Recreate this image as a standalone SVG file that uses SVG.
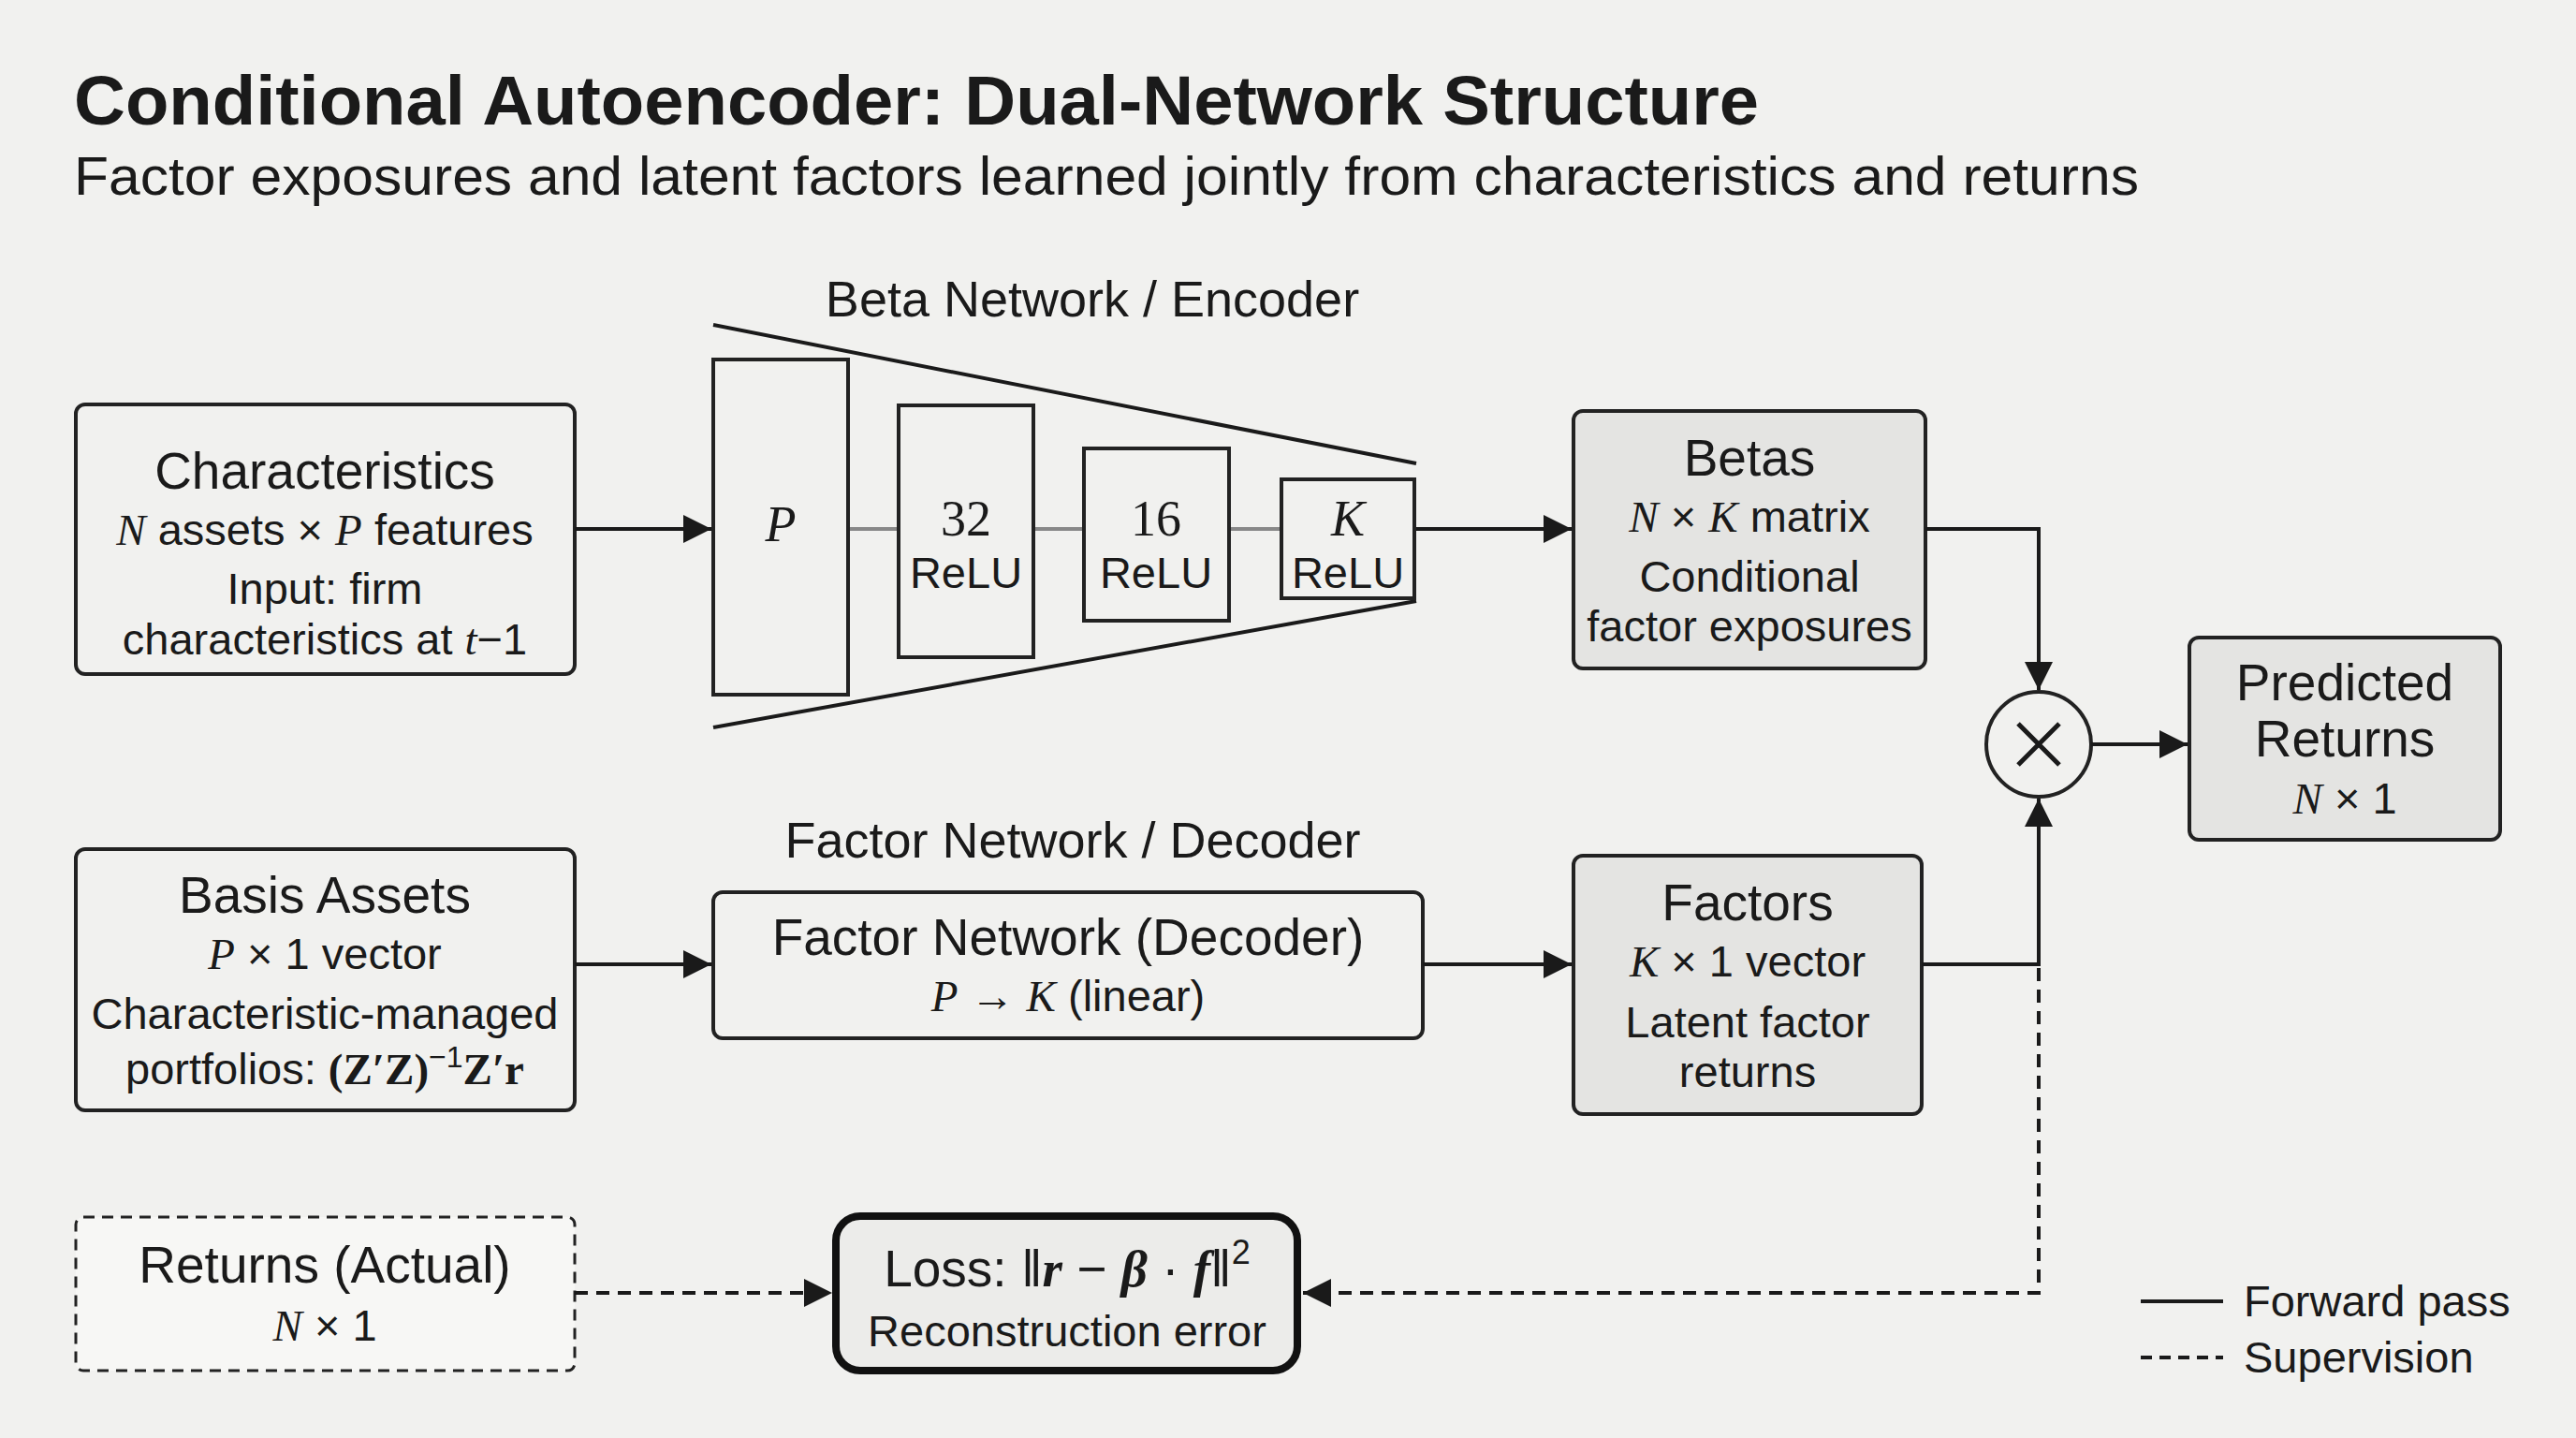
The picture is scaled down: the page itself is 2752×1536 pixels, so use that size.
<svg xmlns="http://www.w3.org/2000/svg" width="2752" height="1536" viewBox="0 0 2752 1536">
<defs>
<style>
text{font-family:"Liberation Sans",Arial,sans-serif;fill:#1a1a1a;text-anchor:middle}
.m{font-family:"Liberation Serif","DejaVu Serif",serif;font-style:italic}
.mb{font-family:"Liberation Serif","DejaVu Serif",serif;font-weight:bold}
.t{font-size:55px}.s{font-size:47px}
.box{fill:none;stroke:#222;stroke-width:4}
.sh{fill:#e4e4e2;stroke:#222;stroke-width:4}
.ln{fill:none;stroke:#1a1a1a;stroke-width:4}
.ds{fill:none;stroke:#1a1a1a;stroke-width:4;stroke-dasharray:14 9}
</style>
<marker id="ah" viewBox="0 0 10 10" refX="10" refY="5" markerWidth="34" markerHeight="30" orient="auto" markerUnits="userSpaceOnUse"><path d="M0,0L10,5L0,10z" fill="#1a1a1a"/></marker>
</defs>
<rect width="2752" height="1536" fill="#f1f1ef"/>
<text x="79" y="133" style="font-size:75px;font-weight:bold;text-anchor:start" textLength="1800" lengthAdjust="spacingAndGlyphs">Conditional Autoencoder: Dual-Network Structure</text>
<text x="79" y="208" style="font-size:57px;text-anchor:start" textLength="2206" lengthAdjust="spacingAndGlyphs">Factor exposures and latent factors learned jointly from characteristics and returns</text>

<g id="characteristics">
<rect class="box" x="81" y="432" width="533" height="288" rx="10"/>
<text class="t" x="347" y="522">Characteristics</text>
<text class="s" x="347" y="582"><tspan class="m">N</tspan> assets × <tspan class="m">P</tspan> features</text>
<text class="s" x="347" y="645">Input: firm</text>
<text class="s" x="347" y="699">characteristics at <tspan class="m">t</tspan>−1</text>
</g>

<g id="encoder">
<text style="font-size:54px" x="1167" y="338">Beta Network / Encoder</text>
<line x1="762" y1="347" x2="1513" y2="495" class="ln"/>
<line x1="762" y1="777" x2="1513" y2="642" class="ln"/>
<line x1="906" y1="565" x2="1369" y2="565" stroke="#888" stroke-width="4"/>
<rect class="box" x="762" y="384" width="144" height="358" style="fill:#f1f1ef"/>
<rect class="box" x="960" y="433" width="144" height="269" style="fill:#f1f1ef"/>
<rect class="box" x="1158" y="479" width="155" height="184" style="fill:#f1f1ef"/>
<rect class="box" x="1369" y="512" width="142" height="127" style="fill:#f1f1ef"/>
<text class="m" style="font-size:54px" x="834" y="578">P</text>
<text style="font-size:54px;font-family:'Liberation Serif',serif" x="1032" y="572">32</text>
<text class="s" x="1032" y="628">ReLU</text>
<text style="font-size:54px;font-family:'Liberation Serif',serif" x="1235" y="572">16</text>
<text class="s" x="1235" y="628">ReLU</text>
<text class="m" style="font-size:54px" x="1440" y="572">K</text>
<text class="s" x="1440" y="628">ReLU</text>
</g>

<g id="betas">
<rect class="sh" x="1681" y="439" width="376" height="275" rx="10"/>
<text class="t" x="1869" y="508">Betas</text>
<text class="s" x="1869" y="568"><tspan class="m">N</tspan> × <tspan class="m">K</tspan> matrix</text>
<text class="s" x="1869" y="632">Conditional</text>
<text class="s" x="1869" y="685">factor exposures</text>
</g>

<g id="multiply">
<circle cx="2178" cy="795" r="56" fill="none" stroke="#222" stroke-width="4"/>
<path d="M2156,773L2200,817M2200,773L2156,817" stroke="#1a1a1a" stroke-width="5"/>
</g>

<g id="predicted">
<rect class="sh" x="2339" y="681" width="332" height="216" rx="10"/>
<text class="t" x="2505" y="748">Predicted</text>
<text class="t" x="2505" y="808">Returns</text>
<text class="s" x="2505" y="869"><tspan class="m">N</tspan> × 1</text>
</g>

<g id="basis">
<rect class="box" x="81" y="907" width="533" height="279" rx="10"/>
<text class="t" x="347" y="975">Basis Assets</text>
<text class="s" x="347" y="1035"><tspan class="m">P</tspan> × 1 vector</text>
<text class="s" x="347" y="1099">Characteristic-managed</text>
<text class="s" x="347" y="1158">portfolios: <tspan class="mb">(Z′Z)</tspan><tspan style="font-size:32px" dy="-18">−1</tspan><tspan class="mb" dy="18">Z′r</tspan></text>
</g>

<g id="decoder">
<text style="font-size:54px" x="1146" y="916">Factor Network / Decoder</text>
<rect class="box" x="762" y="953" width="758" height="156" rx="10"/>
<text class="t" x="1141" y="1020">Factor Network (Decoder)</text>
<text class="s" x="1141" y="1080"><tspan class="m">P</tspan> → <tspan class="m">K</tspan> (linear)</text>
</g>

<g id="factors">
<rect class="sh" x="1681" y="914" width="372" height="276" rx="10"/>
<text class="t" x="1867" y="983">Factors</text>
<text class="s" x="1867" y="1043"><tspan class="m">K</tspan> × 1 vector</text>
<text class="s" x="1867" y="1108">Latent factor</text>
<text class="s" x="1867" y="1161">returns</text>
</g>

<g id="returns">
<rect class="box" x="81" y="1300" width="533" height="164" rx="8" style="stroke-dasharray:12 8;stroke-width:3;fill:#f7f7f5"/>
<text class="t" x="347" y="1370">Returns (Actual)</text>
<text class="s" x="347" y="1432"><tspan class="m">N</tspan> × 1</text>
</g>

<g id="loss">
<rect x="893" y="1299" width="493" height="165" rx="26" fill="#ececea" stroke="#111" stroke-width="8"/>
<text class="t" x="1140" y="1374">Loss: ‖<tspan class="mb" style="font-style:italic">r</tspan> − <tspan class="mb" style="font-style:italic">β</tspan> · <tspan class="mb" style="font-style:italic">f</tspan>‖<tspan style="font-size:36px" dy="-24">2</tspan></text>
<text class="s" x="1140" y="1438">Reconstruction error</text>
</g>

<g id="connectors">
<line x1="614" y1="565" x2="760" y2="565" class="ln" marker-end="url(#ah)"/>
<line x1="1513" y1="565" x2="1679" y2="565" class="ln" marker-end="url(#ah)"/>
<polyline points="2057,565 2178,565 2178,737" class="ln" marker-end="url(#ah)"/>
<line x1="2234" y1="795" x2="2337" y2="795" class="ln" marker-end="url(#ah)"/>
<line x1="614" y1="1030" x2="760" y2="1030" class="ln" marker-end="url(#ah)"/>
<line x1="1520" y1="1030" x2="1679" y2="1030" class="ln" marker-end="url(#ah)"/>
<polyline points="2053,1030 2178,1030 2178,853" class="ln" marker-end="url(#ah)"/>
<polyline points="2178,1034 2178,1381 1392,1381" class="ds" marker-end="url(#ah)"/>
<line x1="614" y1="1381" x2="889" y2="1381" class="ds" marker-end="url(#ah)"/>
</g>

<g id="legend">
<line x1="2287" y1="1390" x2="2375" y2="1390" class="ln"/>
<text class="s" x="2397" y="1406" style="text-anchor:start">Forward pass</text>
<line x1="2287" y1="1450" x2="2375" y2="1450" class="ds" style="stroke-dasharray:12 8"/>
<text class="s" x="2397" y="1466" style="text-anchor:start">Supervision</text>
</g>
</svg>
